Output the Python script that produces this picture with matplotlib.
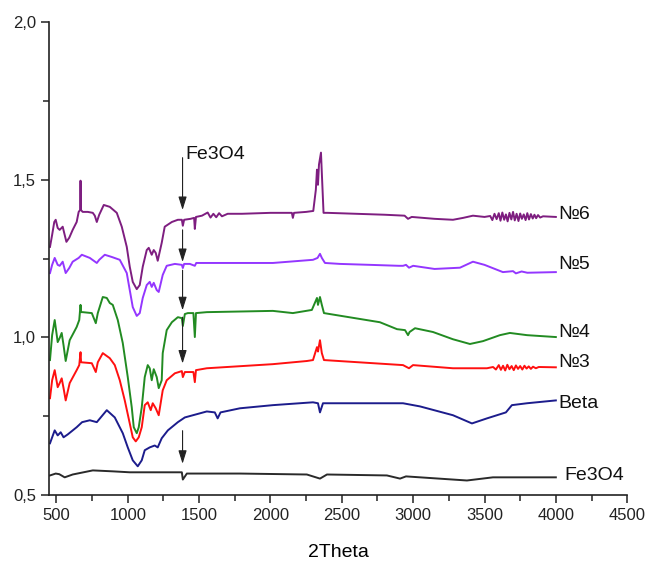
import matplotlib
matplotlib.use("Agg")
import matplotlib.pyplot as plt
from matplotlib.ticker import MultipleLocator

plt.rcParams['font.family'] = ['Liberation Sans', 'DejaVu Sans']

# ---------------- data (wavenumber, value) ----------------
p6 = [(455, 1.287), (470, 1.325), (485, 1.366), (495, 1.373), (509, 1.347), (523, 1.341), (544, 1.351),
      (558, 1.325), (570, 1.303), (590, 1.316), (614, 1.341), (642, 1.366), (656, 1.398), (666, 1.404),
      (669, 1.497), (672, 1.404), (684, 1.398), (720, 1.398), (755, 1.395), (769, 1.386), (783, 1.366),
      (800, 1.389), (832, 1.420), (874, 1.414), (923, 1.395), (958, 1.351), (993, 1.287), (1014, 1.224),
      (1035, 1.176), (1063, 1.153), (1084, 1.166), (1105, 1.224), (1133, 1.277), (1147, 1.284), (1168, 1.262),
      (1182, 1.277), (1196, 1.268), (1210, 1.243), (1238, 1.300), (1259, 1.351), (1309, 1.366), (1351, 1.373),
      (1379, 1.373), (1386, 1.354), (1395, 1.373), (1440, 1.376), (1465, 1.379), (1470, 1.344), (1478, 1.382),
      (1520, 1.386), (1560, 1.396), (1580, 1.380), (1600, 1.392), (1620, 1.381), (1640, 1.394), (1660, 1.384),
      (1700, 1.392), (1800, 1.392), (2000, 1.395), (2150, 1.395), (2157, 1.379), (2165, 1.395), (2250, 1.398),
      (2300, 1.401), (2318, 1.468), (2326, 1.532), (2333, 1.484), (2340, 1.548), (2354, 1.586), (2362, 1.500),
      (2372, 1.395), (2400, 1.395), (2600, 1.392), (2800, 1.389), (2940, 1.386), (2964, 1.376), (2990, 1.382),
      (3150, 1.376), (3279, 1.373), (3350, 1.379), (3419, 1.386), (3500, 1.382), (3540, 1.385), (3555, 1.372),
      (3570, 1.392), (3585, 1.375), (3600, 1.394), (3612, 1.370), (3625, 1.396), (3638, 1.373), (3650, 1.390),
      (3662, 1.368), (3675, 1.395), (3688, 1.374), (3700, 1.398), (3712, 1.371), (3725, 1.392), (3738, 1.369),
      (3750, 1.393), (3762, 1.376), (3775, 1.390), (3788, 1.372), (3800, 1.394), (3812, 1.374), (3825, 1.391),
      (3838, 1.377), (3850, 1.389), (3862, 1.378), (3875, 1.388), (3890, 1.380), (3910, 1.384), (4000, 1.382)]

p5 = [(455, 1.204), (470, 1.230), (488, 1.252), (509, 1.230), (523, 1.227), (544, 1.240), (565, 1.204),
      (590, 1.220), (614, 1.240), (656, 1.252), (678, 1.262), (734, 1.252), (783, 1.236), (800, 1.246),
      (839, 1.262), (888, 1.255), (944, 1.246), (993, 1.204), (1014, 1.150), (1035, 1.096), (1063, 1.068),
      (1084, 1.077), (1105, 1.125), (1133, 1.166), (1154, 1.176), (1168, 1.160), (1182, 1.173), (1203, 1.150),
      (1217, 1.144), (1245, 1.198), (1273, 1.227), (1330, 1.233), (1379, 1.230), (1386, 1.220), (1395, 1.233),
      (1435, 1.233), (1470, 1.227), (1480, 1.236), (1645, 1.236), (2017, 1.236), (2298, 1.246), (2330, 1.252),
      (2347, 1.265), (2360, 1.252), (2382, 1.236), (2487, 1.233), (2700, 1.230), (2900, 1.227), (2929, 1.227),
      (2950, 1.230), (2971, 1.221), (3000, 1.227), (3150, 1.217), (3328, 1.221), (3419, 1.240), (3500, 1.230),
      (3629, 1.207), (3700, 1.210), (3720, 1.203), (3760, 1.209), (3800, 1.205), (4000, 1.207)]

p4 = [(455, 0.928), (470, 1.007), (488, 1.055), (509, 0.985), (523, 0.998), (537, 1.014), (550, 0.975),
      (565, 0.925), (593, 0.991), (620, 1.014), (642, 1.033), (660, 1.055), (669, 1.103), (673, 1.080),
      (684, 1.080), (748, 1.077), (776, 1.045), (790, 1.077), (825, 1.128), (853, 1.125), (874, 1.109),
      (895, 1.103), (930, 1.055), (965, 0.982), (1000, 0.874), (1028, 0.778), (1042, 0.715), (1063, 0.696),
      (1077, 0.715), (1098, 0.778), (1119, 0.874), (1140, 0.912), (1154, 0.902), (1168, 0.864), (1182, 0.899),
      (1203, 0.874), (1217, 0.839), (1238, 0.864), (1245, 0.950), (1273, 1.023), (1309, 1.048), (1351, 1.064),
      (1379, 1.061), (1386, 1.036), (1400, 1.074), (1421, 1.077), (1460, 1.077), (1470, 1.001), (1478, 1.077),
      (1554, 1.080), (2017, 1.084), (2157, 1.077), (2290, 1.087), (2326, 1.125), (2333, 1.103), (2347, 1.128),
      (2360, 1.103), (2375, 1.077), (2767, 1.048), (2887, 1.026), (2943, 1.023), (2964, 1.007), (2975, 1.017),
      (3013, 1.029), (3139, 1.017), (3279, 0.994), (3398, 0.979), (3489, 0.988), (3608, 1.007), (3678, 1.014),
      (3798, 1.007), (4000, 1.001)]

p3 = [(455, 0.807), (470, 0.864), (488, 0.896), (509, 0.842), (523, 0.855), (537, 0.870), (550, 0.839),
      (565, 0.800), (593, 0.855), (642, 0.896), (660, 0.912), (669, 0.953), (673, 0.921), (748, 0.918),
      (776, 0.890), (790, 0.921), (825, 0.950), (874, 0.934), (909, 0.912), (944, 0.864), (979, 0.800),
      (1014, 0.727), (1035, 0.683), (1056, 0.670), (1077, 0.683), (1098, 0.715), (1119, 0.785), (1140, 0.794),
      (1161, 0.769), (1175, 0.791), (1196, 0.775), (1217, 0.753), (1245, 0.832), (1273, 0.864), (1330, 0.886),
      (1379, 0.893), (1386, 0.874), (1400, 0.890), (1460, 0.890), (1470, 0.858), (1478, 0.896), (1554, 0.902),
      (2017, 0.915), (2255, 0.925), (2298, 0.928), (2326, 0.969), (2333, 0.955), (2347, 0.991), (2360, 0.950),
      (2375, 0.928), (2929, 0.912), (2971, 0.902), (2999, 0.912), (3279, 0.902), (3517, 0.902), (3560, 0.906),
      (3580, 0.898), (3600, 0.912), (3615, 0.897), (3630, 0.910), (3645, 0.895), (3660, 0.913), (3675, 0.899),
      (3690, 0.909), (3705, 0.896), (3720, 0.911), (3735, 0.900), (3750, 0.909), (3765, 0.898), (3780, 0.910),
      (3795, 0.901), (3810, 0.908), (3825, 0.900), (3840, 0.907), (3860, 0.902), (3880, 0.906), (4000, 0.905)]

pb = [(455, 0.664), (488, 0.705), (509, 0.689), (530, 0.699), (550, 0.683), (579, 0.692), (642, 0.715),
      (680, 0.731), (734, 0.737), (783, 0.731), (853, 0.769), (909, 0.746), (965, 0.696), (1000, 0.651),
      (1035, 0.610), (1070, 0.591), (1098, 0.610), (1119, 0.642), (1154, 0.651), (1189, 0.657), (1210, 0.651),
      (1238, 0.680), (1281, 0.705), (1351, 0.731), (1400, 0.746), (1554, 0.765), (1610, 0.762), (1630, 0.743),
      (1650, 0.762), (1786, 0.775), (2017, 0.785), (2298, 0.794), (2333, 0.791), (2347, 0.762), (2368, 0.791),
      (2382, 0.791), (2929, 0.791), (3048, 0.781), (3279, 0.753), (3412, 0.727), (3517, 0.743), (3608, 0.756),
      (3650, 0.762), (3692, 0.785), (3798, 0.791), (4000, 0.800)]

pf = [(455, 0.562), (495, 0.568), (520, 0.566), (558, 0.556), (614, 0.565), (755, 0.578), (895, 0.575),
      (1014, 0.572), (1379, 0.572), (1386, 0.549), (1414, 0.568), (1786, 0.568), (2255, 0.565), (2347, 0.552),
      (2396, 0.565), (2816, 0.562), (2908, 0.552), (2950, 0.559), (3377, 0.546), (3559, 0.556), (4000, 0.556)]

names = ['№6', '№5', '№4', '№3', 'Beta', 'Fe3O4']
colors = ['#7E1E80', '#9436FF', '#228B22', '#FF1010', '#1C1C8C', '#2A2A2A']
label_y = [1.389, 1.230, 1.014, 0.921, 0.791, 0.562]

arrow_x = 1384
arrow_from = [1.570, 1.341, 1.213, 1.064, 0.704]
arrow_to = [1.404, 1.239, 1.086, 0.917, 0.599]

xticks = [500, 1000, 1500, 2000, 2500, 3000, 3500, 4000, 4500]
yticks = [0.5, 1.0, 1.5, 2.0]
yticklabels = ['0,5', '1,0', '1,5', '2,0']

# ---------------- plot ----------------
fig = plt.figure(figsize=(6.45, 5.67), dpi=100)
ax = fig.add_axes([0.0764, 0.127, 0.896, 0.834])

for pts, c, lab, ly in zip([p6, p5, p4, p3, pb, pf], colors, names, label_y):
    xs = [p[0] for p in pts]
    ys = [p[1] for p in pts]
    ax.plot(xs, ys, color=c, lw=1.4, solid_joinstyle='round')
    lx = 4060 if lab == 'Fe3O4' else 4020
    ax.text(lx, ly, lab, fontsize=14, va='center', ha='left', color='#111111')

for y0, y1 in zip(arrow_from, arrow_to):
    ax.annotate('', xy=(arrow_x, y1), xytext=(arrow_x, y0),
                arrowprops=dict(arrowstyle='-|>,head_length=0.8,head_width=0.25',
                                color='#222222', lw=0.8, shrinkA=0, shrinkB=0))
ax.text(1404, 1.567, 'Fe3O4', fontsize=14, ha='left', va='baseline', color='#111111')

ax.set_xlim(450, 4500)
ax.set_ylim(0.5, 2.0)
ax.set_xticks(xticks)
ax.set_xticklabels([str(v) for v in xticks])
ax.set_yticks(yticks)
ax.set_yticklabels(yticklabels)
ax.xaxis.set_minor_locator(MultipleLocator(250))
ax.yaxis.set_minor_locator(MultipleLocator(0.25))
ax.tick_params(which='major', direction='out', length=6, width=1.1, labelsize=12, colors='#222222')
ax.tick_params(which='minor', direction='out', length=4, width=1.1, colors='#222222')
for s in ['top', 'right']:
    ax.spines[s].set_visible(False)
for s in ['left', 'bottom']:
    ax.spines[s].set_linewidth(1.2)
    ax.spines[s].set_color('#222222')
ax.set_xlabel('2Theta', fontsize=14, labelpad=15)

fig.savefig('out.png', dpi=100)
